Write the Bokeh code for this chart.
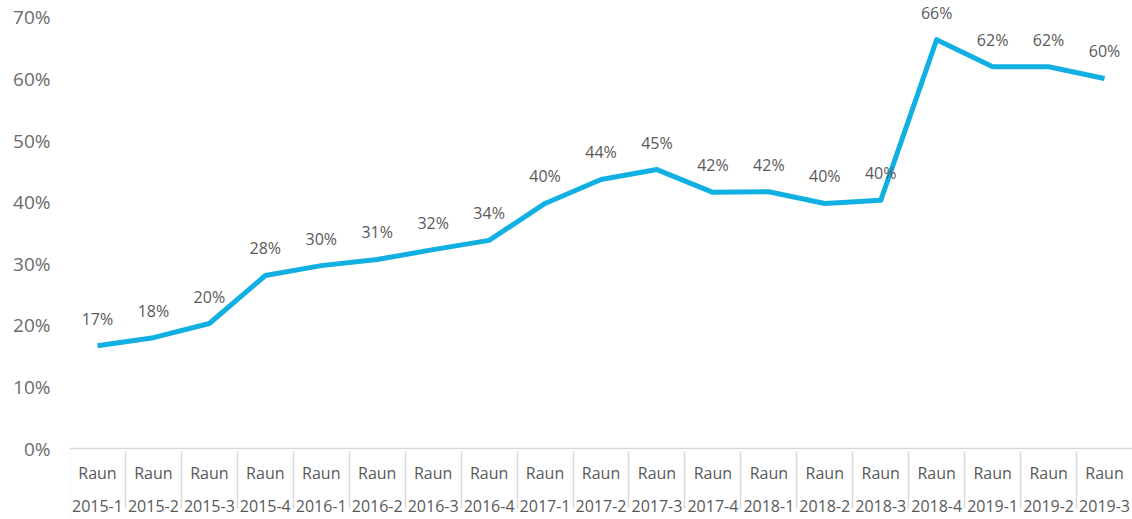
from bokeh.plotting import figure
from bokeh.models import (FactorRange, ColumnDataSource, LabelSet, FixedTicker,
                          NumeralTickFormatter, Range1d, BoxAnnotation)
from bokeh.core.properties import value
from bokeh.embed import file_html
from bokeh.resources import INLINE

periods = ["2015-1", "2015-2", "2015-3", "2015-4",
           "2016-1", "2016-2", "2016-3", "2016-4",
           "2017-1", "2017-2", "2017-3", "2017-4",
           "2018-1", "2018-2", "2018-3", "2018-4",
           "2019-1", "2019-2", "2019-3"]
sub_label = "Raun"
values = [0.167, 0.180, 0.203, 0.281, 0.297, 0.307, 0.323, 0.338,
          0.398, 0.437, 0.453, 0.416, 0.417, 0.398, 0.403, 0.664,
          0.620, 0.620, 0.601]
y_ticks = [0.0, 0.1, 0.2, 0.3, 0.4, 0.5, 0.6, 0.7]

factors = [(pr, sub_label) for pr in periods]
labels = [f"{round(v * 100)}%" for v in values]

source = ColumnDataSource(dict(x=factors, y=values, label=labels))

TEXT = "#595959"
TICK = "#6B6B6B"
GRID = "#D9D9D9"
LINE = "#12B0E2"
FONT = "Open Sans"

# frame covers the whole canvas; the value axis spans 0..70% between
# pixel rows 448 and 17, the category table sits below the 0% line
p = figure(width=1132, height=519, output_backend="svg", toolbar_location=None,
           x_range=FactorRange(*factors, range_padding=0, group_padding=0,
                               factor_padding=0, subgroup_padding=0),
           y_range=Range1d(-0.1153, 0.7276),
           min_border_left=69, min_border_right=0, min_border_top=0,
           min_border_bottom=0)

p.line("x", "y", source=source, line_width=5, line_color=LINE, line_join="round")

p.add_layout(LabelSet(x="x", y="y", text="label", source=source,
                      text_align="center", text_baseline="middle",
                      y_offset=27, text_font=value(FONT),
                      text_font_size="16px", text_color=TEXT))

# left edge of the category table
p.add_layout(BoxAnnotation(left=0, right=0, top=0,
                           fill_alpha=0, line_color=GRID, line_width=1.5))

p.xgrid.visible = False
p.ygrid.visible = False
p.outline_line_color = None

ax = p.xaxis[0]
ax.fixed_location = 0
ax.axis_line_color = GRID
ax.axis_line_width = 1.5
ax.major_tick_line_color = None
ax.minor_tick_line_color = None
ax.major_tick_out = 0
ax.major_tick_in = 0
ax.major_label_overrides = {sub_label: sub_label + "\n"}
ax.major_label_text_font = FONT
ax.major_label_text_font_size = "16px"
ax.major_label_text_line_height = 0.86
ax.major_label_text_color = TEXT
ax.major_label_standoff = 13
ax.group_text_font = FONT
ax.group_text_font_size = "16px"
ax.group_text_font_style = "normal"
ax.group_text_color = TEXT
ax.separator_line_color = GRID
ax.separator_line_width = 1.5

ay = p.yaxis[0]
ay.ticker = FixedTicker(ticks=y_ticks)
ay.formatter = NumeralTickFormatter(format="0%")
ay.axis_line_color = None
ay.major_tick_line_color = None
ay.minor_tick_line_color = None
ay.major_tick_out = 0
ay.major_tick_in = 0
ay.major_label_standoff = 19
ay.major_label_text_font = FONT
ay.major_label_text_font_size = "19px"
ay.major_label_text_color = TICK

open("out.html", "w").write(file_html(p, INLINE))
